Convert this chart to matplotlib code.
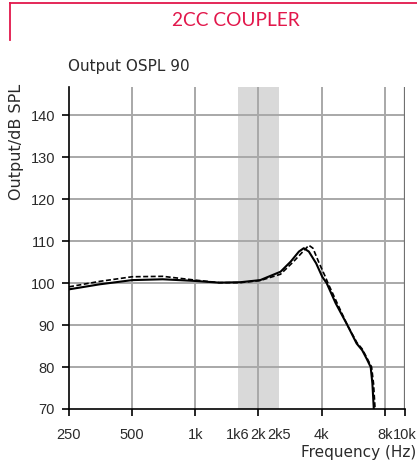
import matplotlib
matplotlib.use("Agg")
from matplotlib import pyplot as plt
from matplotlib.lines import Line2D
import numpy as np

# frequency response (Hz, dB SPL)
solid_f = [250, 350, 500, 700, 1000, 1300, 1640, 2040, 2550, 2850, 3120, 3290, 3480, 3770, 4030, 4230, 4670, 5310, 5880, 6250, 6560, 6860, 6990, 7100]
solid_db = [98.5, 99.7, 100.7, 100.9, 100.5, 100.1, 100.2, 100.7, 102.7, 105.1, 107.5, 108.3, 107.5, 104.7, 101.5, 100.0, 95.2, 90.0, 85.6, 84.0, 82.0, 80.0, 76.1, 70.0]

dash_f = [250, 350, 500, 700, 1000, 1300, 1640, 2040, 2550, 2940, 3290, 3480, 3640, 3900, 4170, 4290, 4750, 5310, 5900, 6250, 6560, 6930, 7080, 7200]
dash_db = [99.1, 100.4, 101.5, 101.6, 100.7, 100.1, 100.1, 100.6, 102.1, 105.1, 107.7, 109.0, 108.3, 104.7, 101.5, 100.0, 95.2, 90.0, 85.8, 84.3, 82.3, 80.0, 76.0, 70.0]

major_ticks = [250, 500, 1000, 2000, 4000, 8000, 10000]
major_labels = ["250", "500", "1k", "2k", "4k", "8k", "10k"]
minor_ticks = [1600, 2500]
minor_labels = ["1k6", "2k5"]
y_ticks = [70, 80, 90, 100, 110, 120, 130, 140]
band = (1600, 2500)

RED = "#e2174b"
GRID = "#a8a8a8"
TXT = "#2a2a2a"
TICKFONT = ["Liberation Sans", "DejaVu Sans"]

def main():
	fig = plt.figure(figsize=(4.17, 4.63), dpi=100)
	ax = fig.add_axes([69/417, 54/463, 336/417, 322/463])

	ax.set_xscale("log", base=2)
	ax.set_xlim(250, 10000)
	ax.set_ylim(70, 146.7)

	ax.axvspan(band[0], band[1], color="#d9d9d9", zorder=0, lw=0)

	for y in y_ticks[1:]:
		ax.axhline(y, color=GRID, lw=1.4, zorder=1)
	for x in major_ticks[1:-1]:
		ax.axvline(x, color=GRID, lw=1.4, zorder=1)
	ax.axvline(10000, color="#707070", lw=1.6, zorder=1)

	ax.plot(solid_f, solid_db, color="black", lw=1.5, zorder=3, solid_joinstyle="round")
	ax.plot(dash_f, dash_db, color="black", lw=1.2, ls=(0, (3, 1.5)), zorder=3)

	for s in ["top", "right"]:
		ax.spines[s].set_visible(False)
	ax.spines["left"].set_linewidth(1.2)
	ax.spines["bottom"].set_linewidth(1.2)

	ax.set_xticks(major_ticks)
	ax.set_xticklabels(major_labels)
	ax.set_xticks(minor_ticks, minor=True)
	ax.set_xticklabels(minor_labels, minor=True)
	ax.tick_params(axis="x", which="major", length=5, width=1.2, direction="out", pad=8.5, labelsize=10.5)
	ax.tick_params(axis="x", which="minor", length=0, pad=13.5, labelsize=10.5)
	ax.set_yticks(y_ticks)
	ax.tick_params(axis="y", length=5, width=1.2, pad=5, labelsize=10.5)
	for lab in ax.get_xticklabels(which="both") + ax.get_yticklabels():
		lab.set_family(TICKFONT)
		lab.set_color(TXT)

	fig.text(17/417, 1 - 142/463, "Output/dB SPL", rotation=90, ha="center", va="center", fontsize=11.5, color=TXT)
	fig.text(416/417, 1 - 452/463, "Frequency (Hz)", ha="right", va="center", fontsize=11, color=TXT)
	fig.text(68/417, 1 - 67/463, "Output OSPL 90", ha="left", va="center", fontsize=11, color=TXT)
	fig.text(236/417, 1 - 20/463, "2CC COUPLER", ha="center", va="center", fontsize=13.8, color=RED, family=["Lato", "DejaVu Sans"])

	# red header frame
	fig.add_artist(Line2D([9.5/417, 9.5/417], [1 - 40/463, 1 - 3/463], color=RED, lw=1.3))
	fig.add_artist(Line2D([9.5/417, 1.0], [1 - 3/463, 1 - 3/463], color=RED, lw=1.3))

	fig.savefig("out.png", dpi=100)

if __name__ == '__main__':
	main()
